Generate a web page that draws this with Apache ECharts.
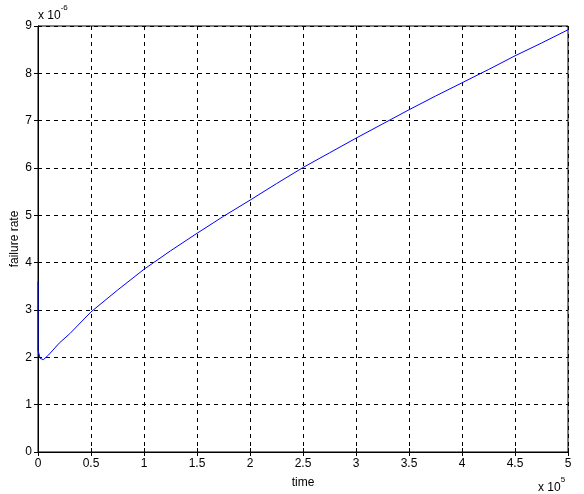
<!DOCTYPE html>
<html>
<head>
<meta charset="utf-8">
<script src="https://cdn.jsdelivr.net/npm/echarts@6/dist/echarts.min.js"></script>
<style>html,body{margin:0;padding:0;background:#fff;}#c{width:584px;height:494px;}</style>
</head>
<body>
<div id="c"></div>
<script>
// time in units of 1e5, failure rate in units of 1e-6
var timeVals = [0, 0, 0.02, 0.05, 0.1, 0.2, 0.3, 0.5, 0.75, 1.0, 1.25, 1.5, 1.75, 2.0, 2.25, 2.5, 2.75, 3.0, 3.25, 3.5, 3.75, 4.0, 4.25, 4.5, 4.75, 5.0];
var rateVals = [3.6, 2.15, 1.98, 1.95, 2.05, 2.3, 2.5, 2.96, 3.42, 3.86, 4.25, 4.62, 4.98, 5.32, 5.67, 6.01, 6.32, 6.63, 6.93, 7.23, 7.52, 7.80, 8.08, 8.37, 8.64, 8.92];
var xTickLabels = ['0','0.5','1','1.5','2','2.5','3','3.5','4','4.5','5'];
var yTickLabels = ['0','1','2','3','4','5','6','7','8','9'];

var font = 'Liberation Sans, Arial, sans-serif';
var chart = echarts.init(document.getElementById('c'), null, {renderer:'canvas'});
var data = timeVals.map(function(t,i){return [t, rateVals[i]];});
var axisCommon = {
  axisLine:{show:true, lineStyle:{color:'#000', width:1}},
  axisTick:{show:true, inside:true, length:4, lineStyle:{color:'#000'}},
  splitLine:{show:false}
};
chart.setOption({
  animation:false,
  backgroundColor:'#fff',
  grid:{left:38, right:16, top:26, bottom:42, show:true, borderColor:'#000', borderWidth:1,
        containLabel:false, outerBoundsMode:'none'},
  xAxis:[
    Object.assign({}, axisCommon, {
      type:'value', min:0, max:5, interval:0.5, position:'bottom',
      name:'time', nameLocation:'middle', nameGap:25, nameMoveOverlap:false,
      nameTextStyle:{color:'#000', fontSize:12, fontFamily:font},
      axisLabel:{color:'#000', fontSize:12, fontFamily:font, margin:6,
        formatter:function(v){var i=Math.round(v/0.5);return xTickLabels[i]!==undefined?xTickLabels[i]:'';}},
      splitLine:{show:true, lineStyle:{color:'#000', type:[4,4], width:1}}
    }),
    Object.assign({}, axisCommon, {
      type:'value', min:0, max:5, interval:0.5, position:'top',
      axisLabel:{show:false}
    })
  ],
  yAxis:[
    Object.assign({}, axisCommon, {
      type:'value', min:0, max:9, interval:1, position:'left',
      name:'failure rate', nameLocation:'middle', nameGap:17, nameMoveOverlap:false,
      nameTextStyle:{color:'#000', fontSize:12, fontFamily:font},
      axisLabel:{color:'#000', fontSize:12, fontFamily:font, margin:6,
        formatter:function(v){var i=Math.round(v);return yTickLabels[i]!==undefined?yTickLabels[i]:'';}},
      splitLine:{show:true, lineStyle:{color:'#000', type:[4,4], width:1}}
    }),
    Object.assign({}, axisCommon, {
      type:'value', min:0, max:9, interval:1, position:'right',
      axisLabel:{show:false}
    })
  ],
  graphic:[
    {type:'text', left:38, top:4, style:{
      text:'{a|x 10}{s|-6}', fill:'#000',
      rich:{a:{fontSize:12, fontFamily:font, fill:'#000', padding:[6,0,0,0]}, s:{fontSize:8, fontFamily:font, fill:'#000', verticalAlign:'top'}}
    }},
    {type:'text', left:538, top:476, style:{
      text:'{a|x 10}{s|5}', fill:'#000',
      rich:{a:{fontSize:12, fontFamily:font, fill:'#000', padding:[6,0,0,0]}, s:{fontSize:8, fontFamily:font, fill:'#000', verticalAlign:'top'}}
    }}
  ],
  series:[{
    type:'line', data:data, showSymbol:false, smooth:false, clip:false, z:20,
    xAxisIndex:0, yAxisIndex:0,
    lineStyle:{color:'#0000ff', width:1}
  }]
});
</script>
</body>
</html>
